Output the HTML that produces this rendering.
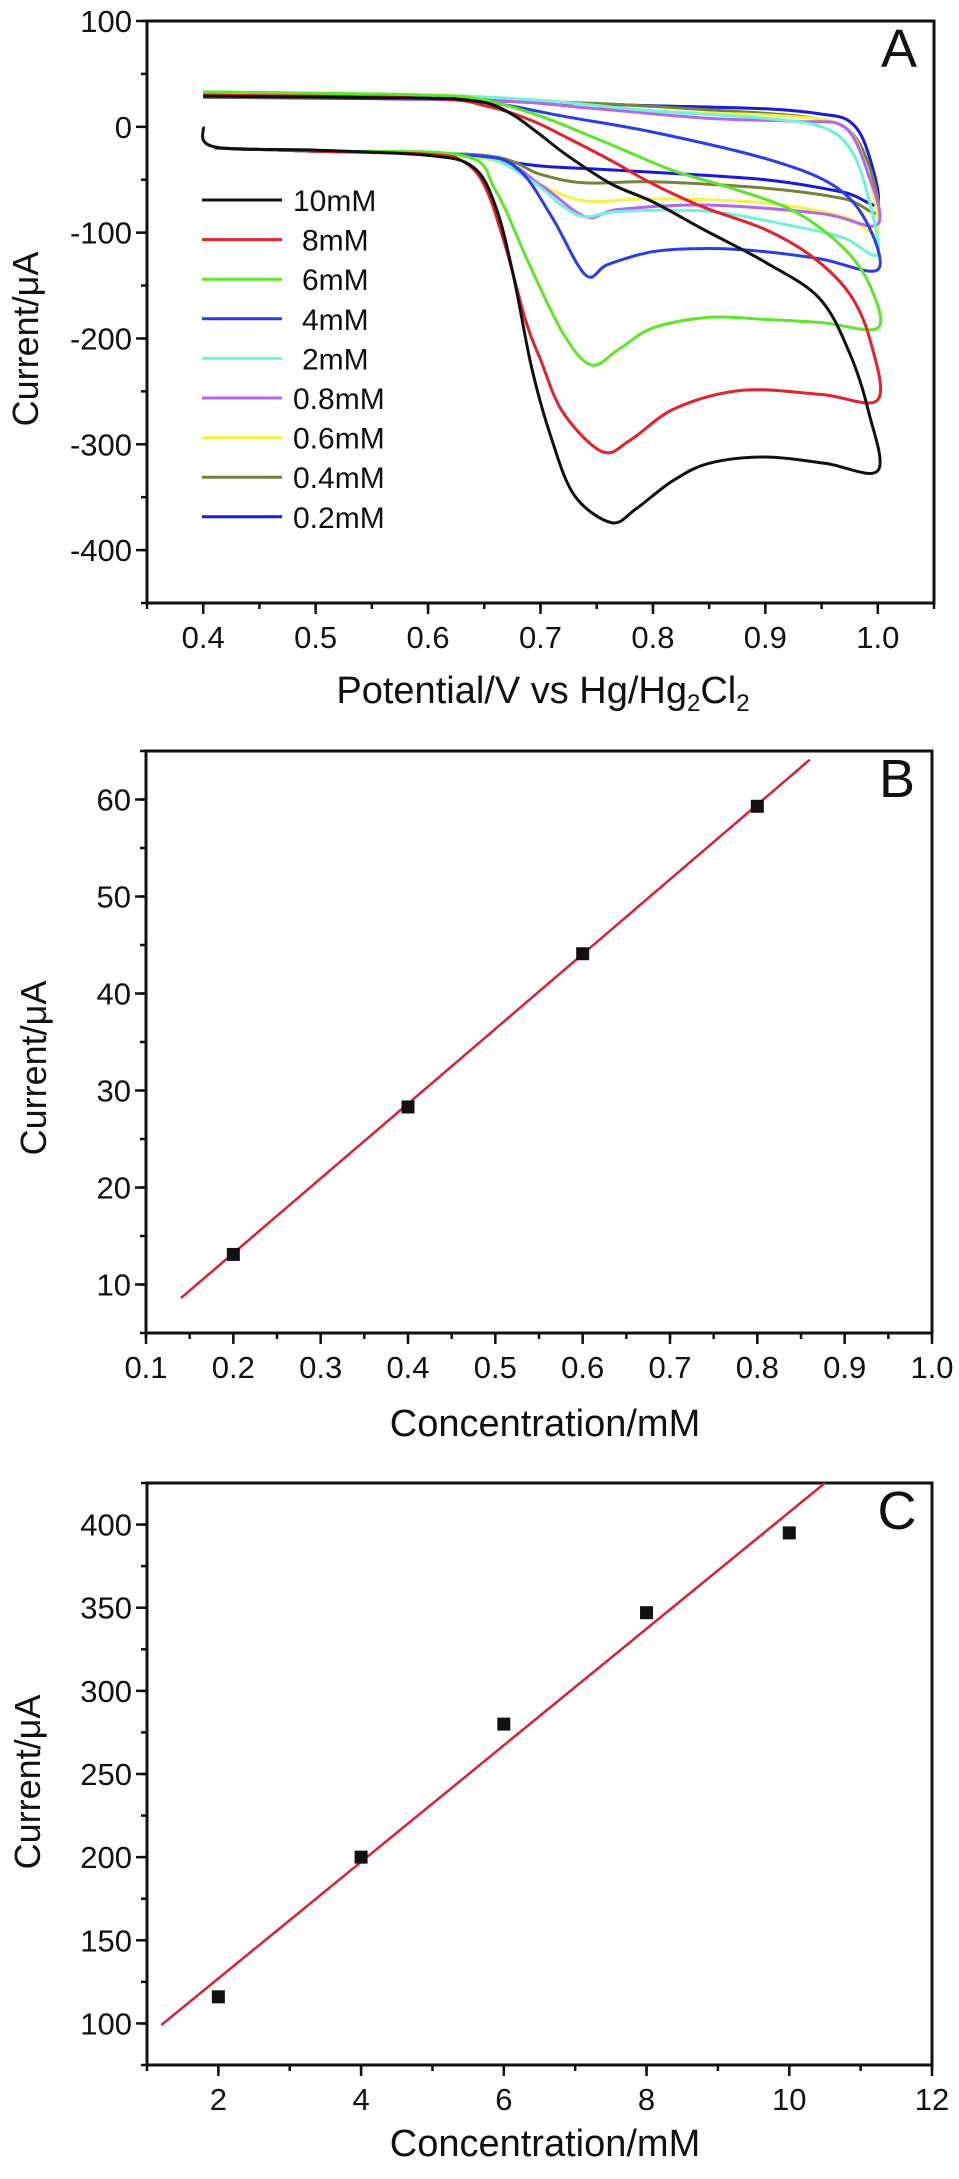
<!DOCTYPE html>
<html><head><meta charset="utf-8"><style>
html,body{margin:0;padding:0;background:#fff;}
svg{display:block;}
text{font-family:"Liberation Sans Narrow","Liberation Sans",sans-serif;fill:#111;}
</style></head><body>
<svg id="fig" width="959" height="2179" viewBox="0 0 959 2179" xmlns="http://www.w3.org/2000/svg"></svg>
<script>
// ---------- Panel A data (potential V, current uA) ----------
const aLabels = ["10mM","8mM","6mM","4mM","2mM","0.8mM","0.6mM","0.4mM","0.2mM"];
const aColors = ["#111111","#e3222e","#5fe52c","#2a3ee6","#72f2d8","#b665f0","#f2f24a","#74843a","#1a1adc"];
const aXTicks = [0.4,0.5,0.6,0.7,0.8,0.9,1.0];
const aXTickLabels = ["0.4","0.5","0.6","0.7","0.8","0.9","1.0"];
const aYTicks = [100,0,-100,-200,-300,-400];
const aYTickLabels = ["100","0","-100","-200","-300","-400"];
const cv10 = [[0.4,0],[0.41,-19],[0.5,-22],[0.6,-27],[0.64,-38],[0.66,-75],[0.676,-141],[0.692,-227],[0.709,-292],[0.73,-348],[0.763,-374],[0.785,-361],[0.817,-335],[0.85,-318],[0.9,-312],[0.953,-318],[1.0,-325],
 [0.992,-270],[0.975,-214],[0.948,-162],[0.9,-128],[0.845,-97],[0.8,-71],[0.763,-54],[0.725,-28],[0.698,-6],[0.676,11],[0.654,22],[0.627,26],[0.6,27],[0.4,29]];
const cv8 = [[0.41,-20],[0.5,-23],[0.6,-26],[0.63,-32],[0.65,-55],[0.668,-110],[0.687,-184],[0.7,-220],[0.72,-270],[0.755,-307],[0.78,-296],[0.82,-266],[0.88,-249],[0.95,-253],[1.0,-258],
 [0.993,-201],[0.975,-158],[0.942,-123],[0.9,-97],[0.845,-76],[0.8,-54],[0.763,-32],[0.725,-11],[0.692,6],[0.654,19],[0.6,27],[0.4,30]];
const cv6 = [[0.41,-20],[0.5,-23],[0.63,-27],[0.66,-60],[0.69,-130],[0.72,-195],[0.745,-225],[0.77,-210],[0.8,-190],[0.85,-180],[0.9,-182],[0.95,-185],[1.0,-190],
 [0.993,-150],[0.97,-115],[0.926,-80],[0.87,-58],[0.817,-41],[0.763,-17],[0.7,10],[0.65,25],[0.6,30],[0.4,33]];
const cv4 = [[0.41,-20],[0.5,-23],[0.64,-27],[0.68,-40],[0.71,-85],[0.74,-140],[0.76,-130],[0.8,-118],[0.85,-115],[0.9,-118],[0.95,-125],[1.0,-135],
 [0.99,-90],[0.96,-55],[0.9,-30],[0.8,-5],[0.72,10],[0.66,22],[0.6,27],[0.4,30]];
const cv2 = [[0.41,-20],[0.5,-23],[0.64,-27],[0.69,-50],[0.72,-75],[0.74,-85],[0.77,-80],[0.85,-80],[0.93,-95],[0.97,-105],[1.0,-120],
 [0.99,-60],[0.975,-20],[0.95,0],[0.9,8],[0.8,15],[0.7,25],[0.6,30],[0.4,33]];
const cv08 = [[0.41,-20],[0.5,-23],[0.65,-28],[0.7,-55],[0.74,-85],[0.77,-78],[0.85,-74],[0.95,-82],[1.0,-92],
 [0.99,-40],[0.97,0],[0.93,5],[0.85,8],[0.75,17],[0.65,25],[0.4,30]];
const cv06 = [[0.41,-20],[0.5,-23],[0.65,-30],[0.7,-55],[0.74,-70],[0.8,-68],[0.9,-72],[0.97,-85],[1.0,-100],
 [0.99,-40],[0.97,0],[0.92,10],[0.8,15],[0.7,25],[0.6,30],[0.4,33]];
const cv04 = [[0.41,-20],[0.5,-23],[0.65,-27],[0.7,-45],[0.74,-53],[0.8,-52],[0.9,-58],[0.97,-68],[1.0,-80],
 [0.99,-30],[0.97,0],[0.93,10],[0.85,16],[0.75,22],[0.6,27],[0.4,28]];
const cv02 = [[0.41,-20],[0.5,-23],[0.6,-25],[0.65,-30],[0.7,-37],[0.75,-40],[0.8,-43],[0.9,-50],[0.97,-62],[1.0,-72],
 [0.99,-20],[0.975,5],[0.95,12],[0.9,17],[0.8,20],[0.7,23],[0.6,26],[0.4,28]];
const aSeries = [cv10,cv8,cv6,cv4,cv2,cv08,cv06,cv04,cv02];

// ---------- Panel B data ----------
const bConc = [0.2,0.4,0.6,0.8];
const bCurrent = [13.1,28.3,44.1,59.3];
const bFitX = [0.14,0.86];
const bFitY = [8.6,64.1];
const bXTicks = [0.1,0.2,0.3,0.4,0.5,0.6,0.7,0.8,0.9,1.0];
const bXTickLabels = ["0.1","0.2","0.3","0.4","0.5","0.6","0.7","0.8","0.9","1.0"];
const bYTicks = [10,20,30,40,50,60];
const bYTickLabels = ["10","20","30","40","50","60"];

// ---------- Panel C data ----------
const cConc = [2,4,6,8,10];
const cCurrent = [116,200,280,347,395];
const cFitX = [1.2,10.5];
const cFitY = [99,425];
const cXTicks = [2,4,6,8,10,12];
const cXTickLabels = ["2","4","6","8","10","12"];
const cYTicks = [100,150,200,250,300,350,400];
const cYTickLabels = ["100","150","200","250","300","350","400"];

const NS="http://www.w3.org/2000/svg";
const svg=document.getElementById('fig');
function mk(tag,attrs,parent){const e=document.createElementNS(NS,tag);for(const k in attrs)e.setAttribute(k,attrs[k]);(parent||svg).appendChild(e);return e;}
function scale(d0,d1,r0,r1){return v=>r0+(v-d0)*(r1-r0)/(d1-d0);}

function axes(p){
  const g=mk('g',{});
  
  
  const frame=mk('rect',{x:p.L,y:p.T,width:p.R-p.L,height:p.B-p.T,fill:'none',stroke:'#111','stroke-width':3},g);
  
  
  for(let v=p.yMinorStart; v<=p.yd[1]+1e-9; v+=p.yMinor){const y=p.sy(v);mk('line',{x1:p.L-6,x2:p.L,y1:y,y2:y,stroke:'#111','stroke-width':2.5},g);}
  for(let v=p.xMinorStart; v<=p.xd[1]+1e-9; v+=p.xMinor){const x=p.sx(v);mk('line',{x1:x,x2:x,y1:p.B,y2:p.B+6,stroke:'#111','stroke-width':2.5},g);}
  p.yTicks.forEach((v,i)=>{const y=p.sy(v);mk('line',{x1:p.L-11,x2:p.L,y1:y,y2:y,stroke:'#111','stroke-width':2.5},g);
    const t=mk('text',{x:p.L-15,y:y+11,'text-anchor':'end','font-size':31},g);t.textContent=p.yLabels[i];
    });
  p.xTicks.forEach((v,i)=>{const x=p.sx(v);mk('line',{x1:x,x2:x,y1:p.B,y2:p.B+11,stroke:'#111','stroke-width':2.5},g);
    const t=mk('text',{x:x,y:p.B+45,'text-anchor':'middle','font-size':31},g);t.textContent=p.xLabels[i];
    });
  const yt=mk('text',{x:0,y:0,'text-anchor':'middle','font-size':36,transform:`translate(${p.ytX},${p.ytY}) rotate(-90)`},g);
  yt.textContent='Current/\u03bcA';
  
  const pl=mk('text',{x:p.R-35,y:p.T+46,'text-anchor':'middle','font-size':54},g);pl.textContent=p.letter;
  
  return g;
}

const A={name:'panel-a-cv',L:147,R:934,T:21,B:603,xd:[0.35,1.05],yd:[-450,100],letter:'A',
  xTicks:aXTicks,xLabels:aXTickLabels,yTicks:aYTicks,yLabels:aYTickLabels,
  yMinor:50,yMinorStart:-450,xMinor:0.05,xMinorStart:0.35,ytX:38,ytY:339};
A.sx=scale(A.xd[0],A.xd[1],A.L,A.R);A.sy=scale(A.yd[0],A.yd[1],A.B,A.T);
const gA=axes(A);
function smoothPath(pts){
  let d=`M${pts[0][0].toFixed(1)},${pts[0][1].toFixed(1)}`;
  for(let i=0;i<pts.length-1;i++){
    const p0=pts[Math.max(0,i-1)],p1=pts[i],p2=pts[i+1],p3=pts[Math.min(pts.length-1,i+2)];
    const c1=[p1[0]+(p2[0]-p0[0])/6,p1[1]+(p2[1]-p0[1])/6];
    const c2=[p2[0]-(p3[0]-p1[0])/6,p2[1]-(p3[1]-p1[1])/6];
    d+=`C${c1[0].toFixed(1)},${c1[1].toFixed(1)} ${c2[0].toFixed(1)},${c2[1].toFixed(1)} ${p2[0].toFixed(1)},${p2[1].toFixed(1)}`;
  }
  return d;
}
for(let s=aSeries.length-1;s>=0;s--){
  const pts=aSeries[s].map(p=>[A.sx(p[0]),A.sy(p[1])]);
  const path=mk('path',{d:smoothPath(pts),fill:'none',stroke:aColors[s],'stroke-width':3,'stroke-linejoin':'round'},gA);
  
  
}
aLabels.forEach((lab,i)=>{
  const y=200+i*39.6;
  const ln=mk('line',{x1:202,x2:282,y1:y,y2:y,stroke:aColors[i],'stroke-width':3},gA);
  
  const t=mk('text',{x:i<5&&i>0?302:293,y:y+11,'font-size':30},gA);t.textContent=lab;
  
});
const axA=mk('text',{x:543,y:703,'text-anchor':'middle','font-size':38},gA);

axA.innerHTML='Potential/V vs Hg/Hg<tspan font-size="24" dy="8">2</tspan><tspan dy="-8">Cl</tspan><tspan font-size="24" dy="8">2</tspan>';

const Bp={name:'panel-b-calibration-low',L:146,R:932,T:751,B:1333,xd:[0.1,1.0],yd:[5,65],letter:'B',
  xTicks:bXTicks,xLabels:bXTickLabels,yTicks:bYTicks,yLabels:bYTickLabels,
  yMinor:5,yMinorStart:5,xMinor:0.05,xMinorStart:0.1,ytX:46,ytY:1068};
Bp.sx=scale(Bp.xd[0],Bp.xd[1],Bp.L,Bp.R);Bp.sy=scale(Bp.yd[0],Bp.yd[1],Bp.B,Bp.T);
const gB=axes(Bp);
const Cp={name:'panel-c-calibration-high',L:147,R:932,T:1483,B:2065,xd:[1,12],yd:[75,425],letter:'C',
  xTicks:cXTicks,xLabels:cXTickLabels,yTicks:cYTicks,yLabels:cYTickLabels,
  yMinor:25,yMinorStart:75,xMinor:1,xMinorStart:1,ytX:40,ytY:1782};
Cp.sx=scale(Cp.xd[0],Cp.xd[1],Cp.L,Cp.R);Cp.sy=scale(Cp.yd[0],Cp.yd[1],Cp.B,Cp.T);
const gC=axes(Cp);

function scatterFit(p,g,xs,ys,fx,fy,xt,xtY){
  const fl=mk('line',{x1:p.sx(fx[0]),y1:p.sy(fy[0]),x2:p.sx(fx[1]),y2:p.sy(fy[1]),stroke:'#d8203a','stroke-width':2.5},g);
  
  xs.forEach((x,i)=>{
    const r=mk('rect',{x:p.sx(x)-6.5,y:p.sy(ys[i])-6.5,width:13,height:13,fill:'#111'},g);
    
  });
  const t=mk('text',{x:545,y:xtY,'text-anchor':'middle','font-size':38},g);t.textContent=xt;
  
}
scatterFit(Bp,gB,bConc,bCurrent,bFitX,bFitY,'Concentration/mM',1436);
scatterFit(Cp,gC,cConc,cCurrent,cFitX,cFitY,'Concentration/mM',2156);
</script>
</body></html>
